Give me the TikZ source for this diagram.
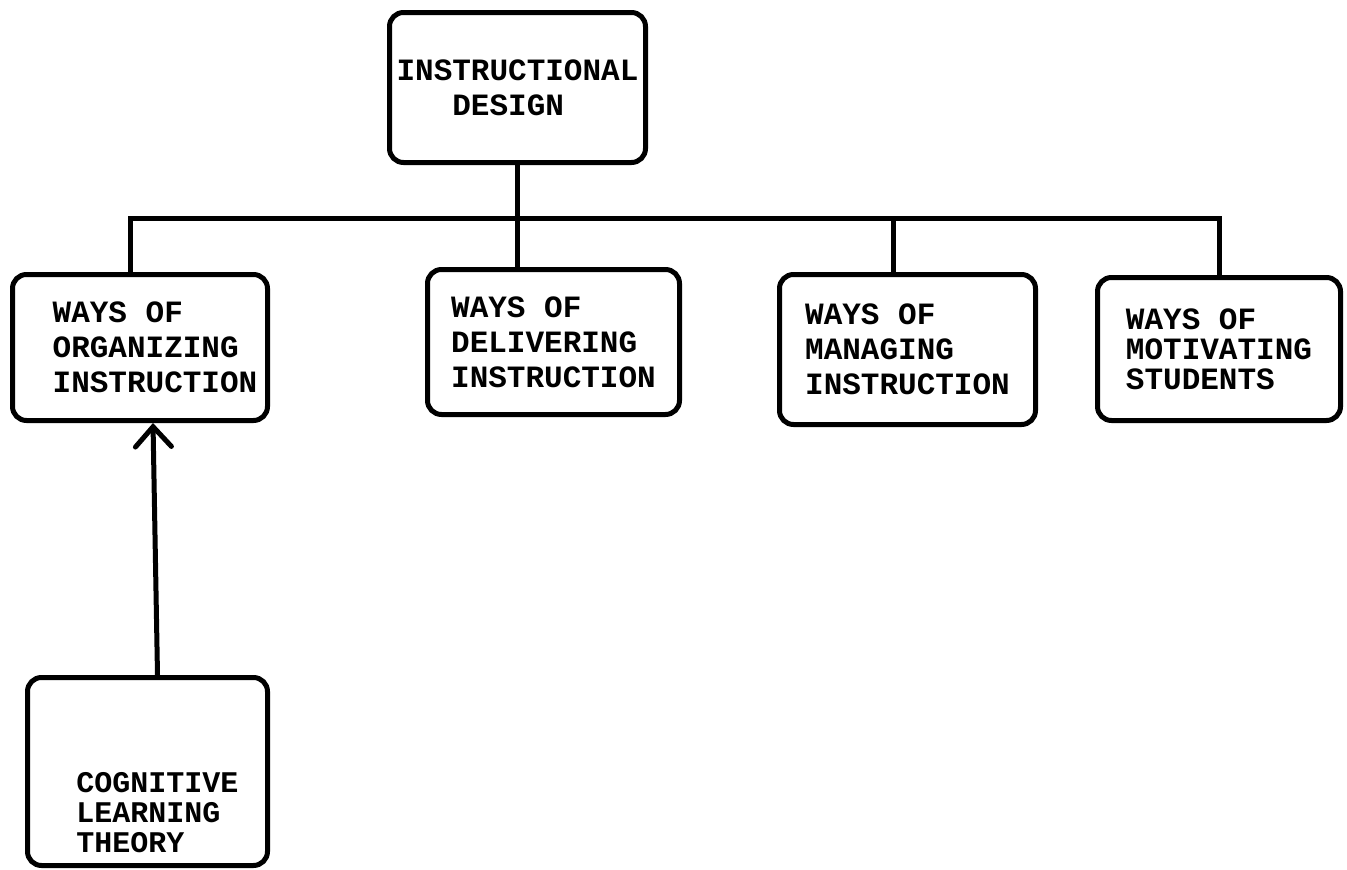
\documentclass[tikz,border=0pt]{standalone}
\usepackage{fontspec}
\setmonofont{Liberation Mono}
\usetikzlibrary{arrows.meta}

\begin{document}
\begin{tikzpicture}[
  x=1pt, y=-1pt,
  font=\ttfamily\bfseries\fontsize{31}{35}\selectfont,
  box/.style={draw, line width=5pt, rounded corners=14pt, align=left, inner sep=0pt},
  tight/.style={font=\ttfamily\bfseries\fontsize{31}{30}\selectfont},
  tighter/.style={font=\ttfamily\bfseries\fontsize{30}{30}\selectfont},
  link/.style={line width=5pt},
  arr/.style={-{Straight Barb[length=20pt,width=36pt,line cap=round]}, line width=5pt},
]
  \useasboundingbox (0,0) rectangle (1347,870);
  % top
  \node[box, minimum width=256, minimum height=150] (design) at (517.5,87.5) {INSTRUCTIONAL\\\hphantom{XXX}DESIGN};
  % the four ways
  \node[box, minimum width=255, minimum height=146] (organize) at (140,347.5) {\hspace*{30pt}WAYS OF\\\hspace*{30pt}ORGANIZING\\\hspace*{30pt}INSTRUCTION};
  \node[box, minimum width=252, minimum height=145] (deliver) at (553.5,342) {WAYS OF\\DELIVERING\\INSTRUCTION};
  \node[box, minimum width=256, minimum height=150] (manage) at (907.5,349.5) {WAYS OF\\MANAGING\\INSTRUCTION};
  \node[box, tight, minimum width=243, minimum height=143] (motivate) at (1219,349) {WAYS OF\\MOTIVATING\\STUDENTS};
  % theory
  \node[box, tighter, minimum width=240, minimum height=188] (cognitive) at (147.5,771.5) {\mbox{}\\[73pt]\hspace*{20pt}COGNITIVE\\\hspace*{20pt}LEARNING\\\hspace*{20pt}THEORY};
  % tree lines
  \coordinate (bar) at (130,218);
  \draw[link] ([xshift=-10pt]organize.north) |- (motivate.north |- bar) -- (motivate.north);
  \draw[link] (design.south) -- (design.south |- deliver.north);
  \draw[link] ([xshift=-14pt]manage.north |- bar) -- ([xshift=-14pt]manage.north);
  \draw[arr] ([xshift=10pt]cognitive.north) -- ([xshift=13pt]organize.south);
\end{tikzpicture}
\end{document}
